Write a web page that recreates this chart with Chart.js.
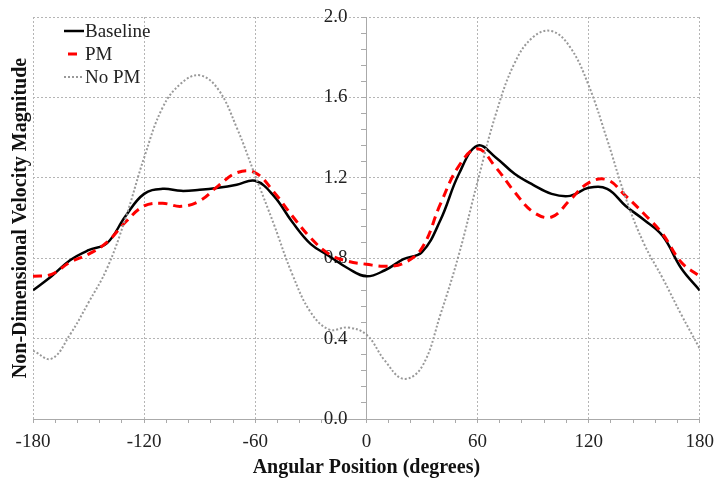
<!DOCTYPE html>
<html>
<head>
<meta charset="utf-8">
<script src="https://cdn.jsdelivr.net/npm/chart.js@4.4.0/dist/chart.umd.min.js"></script>
<style>
  body { margin: 0; background: #fff; }
  .wrap { position: relative; width: 714px; height: 479px; }
  .legend { position: absolute; left: 64px; top: 19px; font-family: "Liberation Serif", serif; font-size: 19px; color: #222; }
  .legend div { height: 23px; line-height: 23px; display: flex; align-items: center; }
  .legend svg { width: 20px; height: 6px; margin-right: 1px; }
</style>
</head>
<body>
<div class="wrap">
  <canvas id="chart" width="714" height="479"></canvas>
  <div class="legend">
    <div><svg><line x1="0" y1="3" x2="20" y2="3" stroke="#000" stroke-width="2.5"/></svg>Baseline</div>
    <div><svg><line x1="0" y1="3" x2="20" y2="3" stroke="#ff0000" stroke-width="3" stroke-dasharray="0 4 9 7"/></svg>PM</div>
    <div><svg><line x1="0" y1="3" x2="20" y2="3" stroke="#999" stroke-width="2" stroke-dasharray="2 2"/></svg>No PM</div>
  </div>
</div>
<script>
// angular position (degrees)
const angles = [-180, -170, -160, -150, -140, -130, -120, -110, -100, -90, -80, -70, -60, -50, -40, -30, -20, -10,
  0, 10, 20, 30, 40, 50, 60, 70, 80, 90, 100, 110, 120, 130, 140, 150, 160, 170, 180];

const baseline = [0.64, 0.71, 0.79, 0.84, 0.875, 1.01, 1.12, 1.145, 1.135, 1.14, 1.15, 1.165, 1.185, 1.11, 0.98, 0.87, 0.81, 0.75,
  0.71, 0.74, 0.795, 0.83, 0.99, 1.22, 1.36, 1.30, 1.22, 1.165, 1.12, 1.11, 1.15, 1.145, 1.06, 0.99, 0.91, 0.75, 0.64];

const pm = [0.71, 0.72, 0.78, 0.82, 0.88, 0.98, 1.06, 1.073, 1.058, 1.085, 1.16, 1.225, 1.225, 1.13, 1.01, 0.90, 0.82, 0.785,
  0.77, 0.76, 0.775, 0.85, 1.07, 1.26, 1.345, 1.25, 1.13, 1.03, 1.005, 1.09, 1.175, 1.19, 1.11, 1.02, 0.92, 0.78, 0.71];

const noPm = [0.34, 0.30, 0.42, 0.58, 0.75, 1.00, 1.30, 1.55, 1.67, 1.71, 1.64, 1.45, 1.21, 0.97, 0.72, 0.53, 0.445, 0.455,
  0.42, 0.29, 0.20, 0.26, 0.52, 0.82, 1.18, 1.52, 1.77, 1.90, 1.93, 1.85, 1.66, 1.39, 1.10, 0.87, 0.70, 0.52, 0.35];

const xMajor = [-180, -120, -60, 0, 60, 120, 180];
const yMajor = [0.0, 0.4, 0.8, 1.2, 1.6, 2.0];

const pts = arr => angles.map((a, i) => ({ x: a, y: arr[i] }));
const isMajor = (v, list) => list.some(m => Math.abs(m - v) < 1e-6);
const serif = 'Liberation Serif';
const gap = '\u00A0\u00A0\u00A0\u00A0'; // keeps the y labels off the centre axis

new Chart(document.getElementById('chart'), {
  type: 'line',
  data: {
    datasets: [
      { label: 'No PM', data: pts(noPm), borderColor: '#999', borderWidth: 2, borderDash: [2, 2], pointRadius: 0, tension: 0.4 },
      { label: 'PM', data: pts(pm), borderColor: '#ff0000', borderWidth: 3, borderDash: [9, 6], pointRadius: 0, tension: 0.4 },
      { label: 'Baseline', data: pts(baseline), borderColor: '#000', borderWidth: 2.5, pointRadius: 0, tension: 0.4 }
    ]
  },
  options: {
    responsive: false,
    animation: false,
    layout: { padding: { top: 17, right: 14, bottom: 0, left: 0 } },
    plugins: { legend: { display: false }, tooltip: { enabled: false } },
    scales: {
      x: {
        type: 'linear', min: -180, max: 180,
        afterBuildTicks: s => { s.ticks = []; for (let v = -180; v <= 180; v += 12) s.ticks.push({ value: v }); },
        ticks: {
          autoSkip: false, maxRotation: 0, padding: 0, color: '#222',
          font: { family: serif, size: 19, lineHeight: 2 },
          callback: v => isMajor(v, xMajor) ? String(v) : ''
        },
        grid: {
          color: c => isMajor(c.tick.value, xMajor) ? '#b5b5b5' : 'rgba(0,0,0,0)',
          tickColor: '#aaa', tickLength: 4
        },
        border: { display: true, color: '#aaa', dash: [2, 2] },
        title: {
          display: true, text: 'Angular Position (degrees)', color: '#111',
          font: { family: serif, size: 20, weight: 'bold', lineHeight: '22px' }, padding: { top: -4, bottom: 0 }
        }
      },
      y: {
        position: 'left', min: 0, max: 2,
        afterBuildTicks: s => { s.ticks = yMajor.map(v => ({ value: v })); },
        ticks: { display: false },
        grid: { color: '#b5b5b5', drawTicks: false },
        border: { display: false, dash: [2, 2] },
        title: {
          display: true, text: 'Non-Dimensional Velocity Magnitude', color: '#111',
          font: { family: serif, size: 20, weight: 'bold' }, padding: { top: 9, bottom: 0 }
        }
      },
      yc: {
        position: { x: 0 }, min: 0, max: 2,
        afterBuildTicks: s => { s.ticks = []; for (let i = 0; i <= 25; i++) s.ticks.push({ value: i * 0.08 }); },
        ticks: {
          autoSkip: false, color: '#222', padding: 0,
          font: { family: serif, size: 19 },
          callback: v => isMajor(v, yMajor) ? v.toFixed(1) + gap : ''
        },
        grid: { drawOnChartArea: false, tickColor: '#aaa', tickLength: 5 },
        border: { display: true, color: '#aaa' }
      }
    }
  }
});
</script>
</body>
</html>
